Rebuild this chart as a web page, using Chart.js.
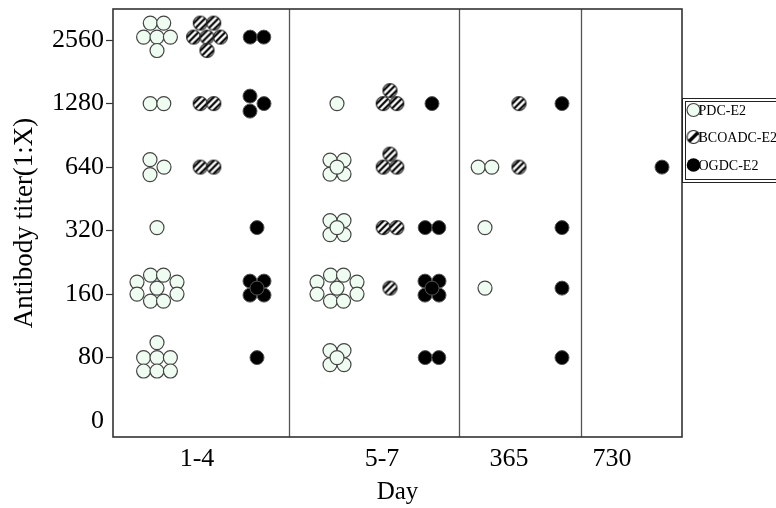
<!DOCTYPE html>
<html>
<head>
<meta charset="utf-8">
<script src="https://cdn.jsdelivr.net/npm/chart.js@4.4.1/dist/chart.umd.min.js"></script>
<style>
  html, body { margin: 0; padding: 0; background: #fff; }
</style>
</head>
<body>
<canvas id="titerChart" width="776" height="508"></canvas>
<script>
const days = ["1-4", "5-7", "365", "730"];
const titerLabels = ["0", "80", "160", "320", "640", "1280", "2560"];
const seriesNames = ["PDC-E2", "BCOADC-E2", "OGDC-E2"];

// number of sera at each titer (index follows titerLabels), one row per day group
const pdcCounts = [
  [0, 7, 9, 1, 3, 2, 6],
  [0, 5, 9, 5, 5, 1, 0],
  [0, 0, 1, 1, 2, 0, 0],
  [0, 0, 0, 0, 0, 0, 0]
];
const bcoadcCounts = [
  [0, 0, 0, 0, 2, 2, 6],
  [0, 0, 1, 2, 3, 3, 0],
  [0, 0, 0, 0, 1, 1, 0],
  [0, 0, 0, 0, 0, 0, 0]
];
const ogdcCounts = [
  [0, 1, 5, 1, 0, 3, 2],
  [0, 2, 5, 2, 0, 1, 0],
  [0, 1, 1, 1, 0, 1, 0],
  [0, 0, 0, 0, 1, 0, 0]
];

// layout: x axis runs in pixels from the left edge of the plot
const X_MAX = 569;
const Y_MIN = -0.25, Y_MAX = 6.49;
const PX_PER_Y = 428 / (Y_MAX - Y_MIN);
const dividers = [176, 346, 468];
const dayTickX = [84, 269, 396, 499];
const groupX = [
  [44, 224, 372, 0],
  [94, 277, 406, 0],
  [144, 319, 449, 549]
];
const rowShift = [0, 0, -6, -3, 0, 0, -3];

// how overlapping circles are packed for n sera (pixel offsets)
function cluster(n, style) {
  if (n === 1) return [[0, 0]];
  if (n === 2) return [[-6.8, 0], [6.8, 0]];
  if (n === 3 && style === "tri") return [[-6.8, 0], [6.8, 0], [0, -13]];
  if (n === 3) return [[-7, -7.5], [-7, 7.5], [7, 0]];
  if (n === 5) return [[-7, -7], [7, -7], [-7, 7], [7, 7], [0, 0]];
  if (n === 6) return [[-13.4, 0], [0, 0], [13.4, 0], [-6.7, -14], [6.7, -14], [0, 13.4]];
  if (n === 7) return [[0, -15], [-13.4, 0], [0, 0], [13.4, 0], [-13.4, 13.4], [0, 13.4], [13.4, 13.4]];
  if (n === 9) return [[-20, -6], [-6.5, -13], [6.5, -13], [20, -6], [0, 0], [-20, 6], [-6.5, 13], [6.5, 13], [20, 6]];
  return [];
}

function buildPoints(counts, s, style) {
  const pts = [];
  counts.forEach((row, d) => {
    row.forEach((n, t) => {
      cluster(n, style).forEach(([dx, dy]) => {
        pts.push({ x: groupX[s][d] + dx, y: t - (dy + rowShift[t]) / PX_PER_Y });
      });
    });
  });
  return pts;
}

function hatchMarker(r, stripes, lw) {
  const s = Math.ceil(2 * r + 3);
  const c = document.createElement("canvas");
  c.width = c.height = s;
  const g = c.getContext("2d");
  const m = s / 2;
  g.beginPath(); g.arc(m, m, r, 0, Math.PI * 2);
  g.fillStyle = "#fff"; g.fill();
  g.save(); g.clip();
  g.strokeStyle = "#000"; g.lineWidth = lw;
  stripes.forEach(k => {
    const ox = m + k / Math.SQRT2, oy = m + k / Math.SQRT2;
    g.beginPath(); g.moveTo(ox - s, oy + s); g.lineTo(ox + s, oy - s); g.stroke();
  });
  g.restore();
  g.beginPath(); g.arc(m, m, r, 0, Math.PI * 2);
  g.lineWidth = 1.2; g.strokeStyle = "#222"; g.stroke();
  return c;
}

const hatchPlot = hatchMarker(7, [-4.6, 0, 4.6], 2.2);
const hatchLegend = hatchMarker(6.5, [0], 3.4);
const PDC_FILL = "#effcf1";
const serif = "'Liberation Serif', 'DejaVu Serif', serif";

const framePlugin = {
  id: "frame",
  beforeDatasetsDraw(chart) {
    const { ctx, chartArea: a, scales } = chart;
    ctx.save();
    ctx.strokeStyle = "#555";
    ctx.lineWidth = 1.3;
    dividers.forEach(v => {
      const px = Math.round(scales.x.getPixelForValue(v)) + 0.5;
      ctx.beginPath(); ctx.moveTo(px, a.top); ctx.lineTo(px, a.bottom); ctx.stroke();
    });
    ctx.strokeStyle = "#333";
    ctx.lineWidth = 1.6;
    ctx.strokeRect(a.left, a.top, a.right - a.left, a.bottom - a.top);
    ctx.restore();
  },
  afterDraw(chart) {
    const ctx = chart.ctx;
    ctx.save();
    ctx.strokeStyle = "#222";
    ctx.lineWidth = 1;
    ctx.strokeRect(682.5, 98.5, 100, 84);
    ctx.strokeRect(685.5, 101.5, 95, 78);
    const ys = [110, 137, 165];
    // PDC
    ctx.beginPath(); ctx.arc(693.5, ys[0], 6.5, 0, Math.PI * 2);
    ctx.fillStyle = PDC_FILL; ctx.fill();
    ctx.strokeStyle = "#444"; ctx.lineWidth = 1.2; ctx.stroke();
    // BCOADC
    ctx.drawImage(hatchLegend, 693.5 - hatchLegend.width / 2, ys[1] - hatchLegend.height / 2);
    // OGDC
    ctx.beginPath(); ctx.arc(693.5, ys[2], 6.8, 0, Math.PI * 2);
    ctx.fillStyle = "#000"; ctx.fill();
    ctx.fillStyle = "#000";
    ctx.font = "14px " + serif;
    ctx.textBaseline = "middle";
    seriesNames.forEach((name, i) => ctx.fillText(name, 698.5, ys[i] + 1.5));
    ctx.restore();
  }
};

new Chart(document.getElementById("titerChart"), {
  type: "scatter",
  data: {
    datasets: [
      {
        label: seriesNames[0],
        data: buildPoints(pdcCounts, 0, "stack"),
        pointStyle: "circle",
        pointRadius: 7,
        pointBackgroundColor: PDC_FILL,
        pointBorderColor: "#444",
        pointBorderWidth: 1.2
      },
      {
        label: seriesNames[1],
        data: buildPoints(bcoadcCounts, 1, "tri"),
        pointStyle: hatchPlot
      },
      {
        label: seriesNames[2],
        data: buildPoints(ogdcCounts, 2, "stack"),
        pointStyle: "circle",
        pointRadius: 7,
        pointBackgroundColor: "#000",
        pointBorderColor: "#555",
        pointBorderWidth: 1
      }
    ]
  },
  options: {
    responsive: false,
    animation: false,
    layout: { padding: { top: 9, right: 94, left: 0, bottom: 0 } },
    plugins: { legend: { display: false }, tooltip: { enabled: false } },
    scales: {
      x: {
        type: "linear",
        min: 0,
        max: X_MAX,
        afterBuildTicks: scale => { scale.ticks = dayTickX.map(v => ({ value: v })); },
        afterFit: scale => { scale.height = 71; scale.paddingLeft = 0; scale.paddingRight = 0; },
        grid: { display: false, drawTicks: false },
        border: { display: false },
        ticks: {
          padding: 7,
          color: "#000",
          font: { family: serif, size: 26 },
          callback: (v, i) => days[i]
        },
        title: {
          display: true,
          text: "Day",
          color: "#000",
          font: { family: serif, size: 25 },
          padding: { top: 0, bottom: 1 }
        }
      },
      y: {
        type: "linear",
        min: Y_MIN,
        max: Y_MAX,
        afterBuildTicks: scale => { scale.ticks = titerLabels.map((t, i) => ({ value: i })); },
        afterFit: scale => { scale.width = 113; scale.paddingTop = 0; scale.paddingBottom = 0; },
        grid: {
          drawOnChartArea: false,
          drawTicks: true,
          tickLength: 7,
          tickWidth: 1.2,
          tickColor: c => (c.tick && c.tick.value === 0 ? "rgba(0,0,0,0)" : "#333")
        },
        border: { display: false },
        ticks: {
          padding: 2,
          color: "#000",
          font: { family: serif, size: 26 },
          callback: v => titerLabels[Math.round(v)]
        },
        title: {
          display: true,
          text: "Antibody titer(1:X)",
          color: "#000",
          font: { family: serif, size: 27 },
          padding: { top: 9, bottom: 0 }
        }
      }
    }
  },
  plugins: [framePlugin]
});
</script>
</body>
</html>
